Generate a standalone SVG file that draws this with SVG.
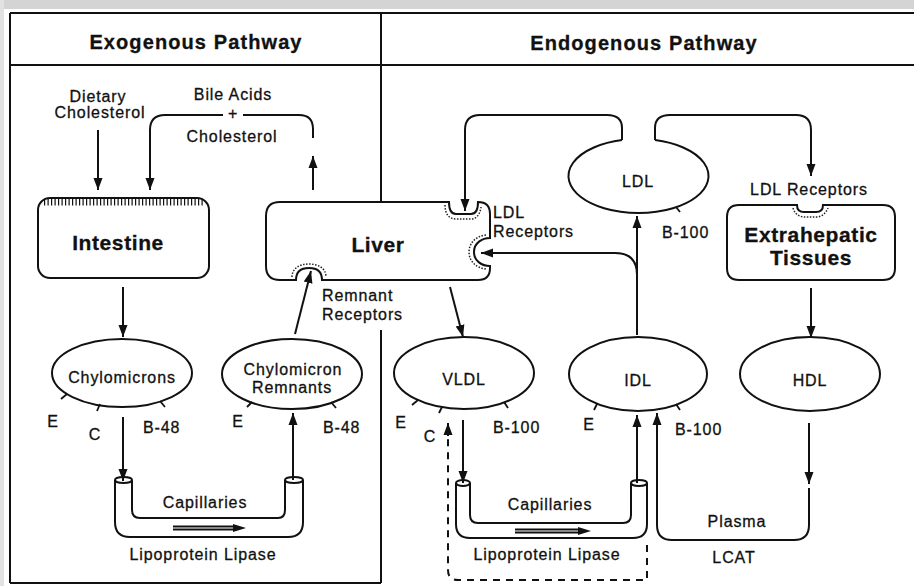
<svg xmlns="http://www.w3.org/2000/svg" width="914" height="586" viewBox="0 0 914 586">
<style>
.t{font-family:"Liberation Sans",Arial,sans-serif;font-size:16px;letter-spacing:0.9px;fill:#111;stroke:#111;stroke-width:0.3}
.m{text-anchor:middle}
.b{font-weight:bold;font-size:21px;letter-spacing:0.6px}
.h{font-weight:bold;font-size:20px;letter-spacing:1.1px;text-anchor:middle}
.ln{fill:none;stroke:#111;stroke-width:2}
.sh{fill:#fff;stroke:#111;stroke-width:2}
.fz{fill:none;stroke:#222;stroke-width:1.5;stroke-dasharray:1.5 1.5}
.tk{fill:none;stroke:#111;stroke-width:1.8}
.ds{fill:none;stroke:#111;stroke-width:2;stroke-dasharray:7 6}
</style>
<defs>
<marker id="ah" markerUnits="userSpaceOnUse" markerWidth="12" markerHeight="10" refX="12" refY="5" orient="auto">
<path d="M0,0.5 L12,5 L0,9.5 Z" fill="#111"/>
</marker>
</defs>
<rect width="914" height="586" fill="#fff"/>
<rect x="0" y="0" width="914" height="9" fill="#d4d4d4"/>
<rect x="0" y="0" width="4" height="586" fill="#e2e2e2"/>

<g id="frame">
<line class="ln" x1="10" y1="13" x2="914" y2="13"/>
<line class="ln" x1="10" y1="65" x2="914" y2="65"/>
<line class="ln" x1="10" y1="13" x2="10" y2="583"/>
<line class="ln" x1="10" y1="583" x2="381" y2="583"/>
<line class="ln" x1="381" y1="13" x2="381" y2="202"/>
<line class="ln" x1="381" y1="330" x2="381" y2="583"/>
<text class="t h" x="196" y="49">Exogenous Pathway</text>
<text class="t h" x="644" y="50">Endogenous Pathway</text>
</g>

<g id="connectors">
<path class="ln" d="M98,130 V190" marker-end="url(#ah)"/>
<path class="ln" d="M223,115 H165 Q150,115 150,130 V190" marker-end="url(#ah)"/>
<path class="ln" d="M243,115 H299 Q313,115 313,129 V138"/>
<path class="ln" d="M313,190 V156" marker-end="url(#ah)"/>
<path class="ln" d="M123,287 V337" marker-end="url(#ah)"/>
<path class="ln" d="M295,334 L311,271" marker-end="url(#ah)"/>
<path class="ln" d="M450,287 L463,337" marker-end="url(#ah)"/>
<path class="ln" d="M622,140 V128 Q622,115 607,115 H480 Q465,115 465,130 V211" marker-end="url(#ah)"/>
<path class="ln" d="M655,140 V128 Q655,115 670,115 H796 Q811,115 811,130 V176" marker-end="url(#ah)"/>
<path class="ln" d="M637,335 V216" marker-end="url(#ah)"/>
<path class="ln" d="M637,275 Q637,253 615,253 H481" marker-end="url(#ah)"/>
<path class="ln" d="M811,288 V338" marker-end="url(#ah)"/>
<path class="ln" d="M809,423 V484" marker-end="url(#ah)"/>
<path class="ln" d="M809,488 V525 Q809,540 794,540 H672 Q657,540 657,525 V413" marker-end="url(#ah)"/>
<path class="ln" d="M123,417 V481" marker-end="url(#ah)"/>
<path class="ln" d="M293,480 V413" marker-end="url(#ah)"/>
<path class="ln" d="M463,420 V483" marker-end="url(#ah)"/>
<path class="ln" d="M637,483 V415" marker-end="url(#ah)"/>
<path class="ds" d="M647,545 V580 H458 Q448,580 448,570 V432"/>
<path class="ln" d="M448,436 V423" marker-end="url(#ah)"/>
</g>

<g id="intestine">
<rect class="sh" x="38" y="198" width="171" height="80" rx="12"/>
<line x1="44" y1="202" x2="204" y2="202" stroke="#111" stroke-width="7" stroke-dasharray="1.2 2.3"/>
<text class="t b m" x="118" y="250">Intestine</text>
</g>

<g id="liver">
<path class="sh" d="M280,202 H449 C449,209 451,214 456,214 H471 C476,214 478,209 478,202 Q490,202 490,214 V238 C482,238 474,243 474,252 C474,261 482,266 490,266 V268 Q490,280 478,280 H322 C322,272 318,268 309,268 C300,268 296,272 296,280 H280 Q266,280 266,266 V216 Q266,202 280,202 Z"/>
<path class="fz" d="M445,205 C445,214 449,219 456,219 H471 C476,219 480,215 481,207"/>
<path class="fz" d="M486,235 C476,236 469,243 469,252 C469,261 476,268 486,269"/>
<path class="fz" d="M292,277 C292,268 300,264 309,264 C318,264 326,268 326,277"/>
<text class="t b m" x="378" y="252">Liver</text>
<text class="t" x="493" y="218">LDL</text>
<text class="t" x="493" y="237">Receptors</text>
<text class="t" x="322" y="301">Remnant</text>
<text class="t" x="322" y="320">Receptors</text>
</g>

<g id="extrahepatic">
<path class="sh" d="M739,205 H797 C797,210 800,212 804,212 H816 C820,212 823,210 823,205 H883 Q895,205 895,217 V268 Q895,280 883,280 H739 Q727,280 727,268 V217 Q727,205 739,205 Z"/>
<path class="fz" d="M793,208 C795,215 800,217 806,217 H816 C822,217 826,213 828,208"/>
<text class="t b m" x="811" y="242">Extrahepatic</text>
<text class="t b m" x="811" y="265">Tissues</text>
<text class="t m" x="809" y="195">LDL Receptors</text>
</g>

<g id="text-top">
<text class="t m" x="98" y="102">Dietary</text>
<text class="t m" x="100" y="118">Cholesterol</text>
<text class="t m" x="233" y="100">Bile Acids</text>
<text class="t m" x="233" y="119">+</text>
<text class="t m" x="232" y="142">Cholesterol</text>
</g>

<g id="chylomicrons">
<ellipse class="sh" cx="122" cy="373" rx="70" ry="34"/>
<text class="t m" x="122" y="383">Chylomicrons</text>
<path class="tk" d="M67,394 L61,399 M100,404 L97,411 M160,401 L165,407"/>
<text class="t m" x="53" y="427">E</text>
<text class="t m" x="95" y="440">C</text>
<text class="t" x="143" y="433">B-48</text>
</g>

<g id="remnants">
<ellipse class="sh" cx="292" cy="374" rx="70" ry="35"/>
<text class="t m" x="293" y="375">Chylomicron</text>
<text class="t m" x="292" y="393">Remnants</text>
<path class="tk" d="M252,402 L247,407 M331,402 L336,408"/>
<text class="t m" x="238" y="427">E</text>
<text class="t" x="323" y="433">B-48</text>
</g>

<g id="vldl">
<ellipse class="sh" cx="464" cy="373" rx="70" ry="36"/>
<text class="t m" x="464" y="385">VLDL</text>
<path class="tk" d="M418,400 L412,405 M442,407 L439,413 M504,402 L508,408"/>
<text class="t m" x="401" y="428">E</text>
<text class="t m" x="430" y="442">C</text>
<text class="t" x="493" y="433">B-100</text>
</g>

<g id="idl">
<ellipse class="sh" cx="638" cy="374" rx="69" ry="37"/>
<text class="t m" x="638" y="386">IDL</text>
<path class="tk" d="M597,404 L594,410 M676,404 L680,410"/>
<text class="t m" x="589" y="430">E</text>
<text class="t" x="675" y="435">B-100</text>
</g>

<g id="hdl">
<ellipse class="sh" cx="810" cy="374" rx="70" ry="37"/>
<text class="t m" x="810" y="386">HDL</text>
</g>

<g id="ldl">
<path class="sh" d="M655,140 A70,37 0 1,1 622,140"/>
<text class="t m" x="638" y="187">LDL</text>
<path class="tk" d="M676,207 L680,212"/>
<text class="t" x="662" y="238">B-100</text>
</g>

<g id="capillaries-left">
<path class="ln" d="M115,480 V522 Q115,537 130,537 H288 Q303,537 303,522 V480"/>
<path class="ln" d="M132,480 V510 Q132,518 140,518 H278 Q285,518 285,510 V480"/>
<ellipse class="ln" cx="123.5" cy="480" rx="8.5" ry="3"/>
<ellipse class="ln" cx="294" cy="480" rx="9" ry="3"/>
<path class="tk" d="M173,526.5 H235 M173,529.5 H235" stroke-width="1.4"/>
<path d="M233,524 L246,528 L233,532 Z" fill="#111"/>
<text class="t m" x="205" y="508">Capillaries</text>
<text class="t m" x="203" y="560">Lipoprotein Lipase</text>
</g>

<g id="capillaries-right">
<path class="ln" d="M456,483 V524 Q456,538 470,538 H633 Q647,538 647,524 V483"/>
<path class="ln" d="M470,483 V515 Q470,523 478,523 H623 Q631,523 631,515 V483"/>
<ellipse class="ln" cx="463" cy="483" rx="7" ry="3"/>
<ellipse class="ln" cx="639" cy="483" rx="8" ry="3"/>
<path class="tk" d="M515,529.5 H580 M515,532.5 H580" stroke-width="1.4"/>
<path d="M578,527 L591,531 L578,535 Z" fill="#111"/>
<text class="t m" x="550" y="510">Capillaries</text>
<text class="t m" x="547" y="560">Lipoprotein Lipase</text>
<text class="t m" x="737" y="527">Plasma</text>
<text class="t m" x="734" y="563">LCAT</text>
</g>
</svg>
